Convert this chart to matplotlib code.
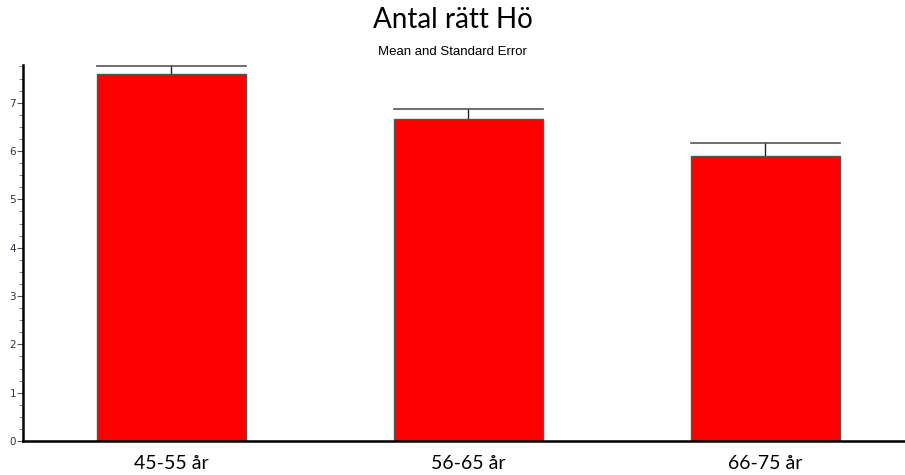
import matplotlib
matplotlib.use("Agg")
import matplotlib.pyplot as plt
from matplotlib.ticker import MultipleLocator

categories = ["45-55 år", "56-65 år", "66-75 år"]
means = [7.60, 6.67, 5.90]
se = [0.16, 0.19, 0.26]
yticks = [0, 1, 2, 3, 4, 5, 6, 7]

fig = plt.figure(figsize=(9.05, 4.75), dpi=100)
ax = fig.add_axes([23/905, 34/475, 1 - 23/905, (441-65)/475])

x = list(range(len(categories)))
ax.bar(x, means, width=0.5, color="#ff0000", edgecolor="#555555", linewidth=1, zorder=2)
for xi, m, s in zip(x, means, se):
    ax.plot([xi, xi], [m, m + s], color="#222222", lw=1, zorder=1)
    ax.plot([xi - 0.25, xi + 0.25], [m + s, m + s], color="#555555", lw=1.2, zorder=1)

ax.set_xlim(-0.5, 2.47)
ax.set_ylim(0, 7.78)
ax.set_yticks(yticks)
ax.yaxis.set_minor_locator(MultipleLocator(0.25))
ax.tick_params(axis="y", which="major", length=4, width=0.8, labelsize=7.5, labelcolor="#333344", color="#555555", pad=1)
ax.tick_params(axis="y", which="minor", length=3, width=0.6, color="#777777")
ax.set_xticks(x)
ax.set_xticklabels(categories, fontsize=14, family="Lato")
ax.tick_params(axis="x", length=0, pad=10)
for sp in ["top", "right"]:
    ax.spines[sp].set_visible(False)
ax.spines["left"].set_linewidth(1.8)
ax.spines["bottom"].set_linewidth(1.8)

fig.text(0.5, 1 - 20/475, "Antal rätt Hö", ha="center", va="center", fontsize=20, family="Lato")
fig.text(0.5, 1 - 52/475, "Mean and Standard Error", ha="center", va="center", fontsize=9.5, family="Liberation Sans")

fig.savefig("out.png", dpi=100)
